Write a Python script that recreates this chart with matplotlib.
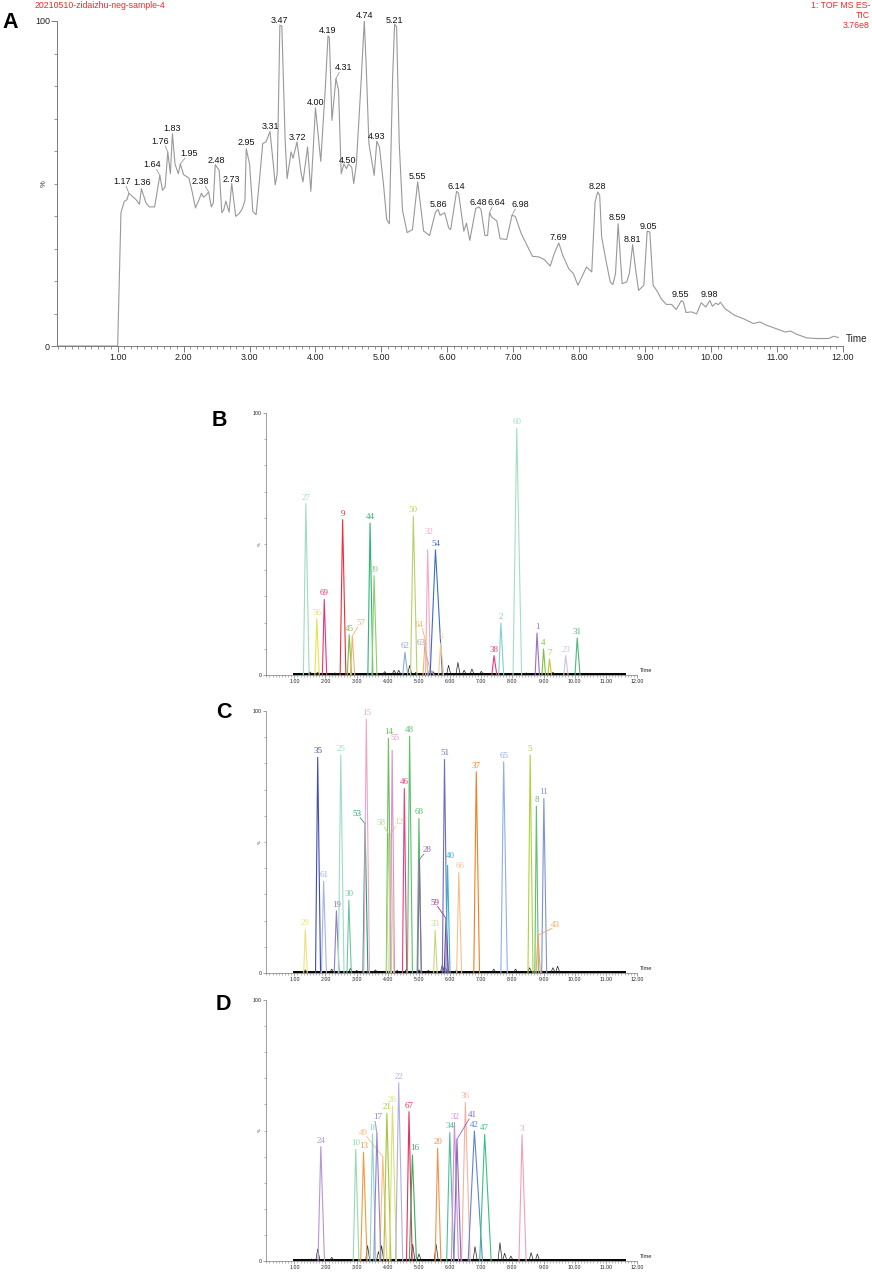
import numpy as np
import matplotlib
matplotlib.use("Agg")
import matplotlib.pyplot as plt
from matplotlib.ticker import MultipleLocator, FixedLocator

# ---- panel A : TIC trace (time in min, intensity in %) ----
tic_t = [0.08, 1.00, 1.05, 1.10, 1.14, 1.17, 1.28, 1.33, 1.36, 1.43, 1.48, 1.56, 1.64, 1.68, 1.72,
         1.76, 1.80, 1.83, 1.87, 1.92, 1.95, 2.00, 2.08, 2.13, 2.18, 2.23, 2.27, 2.30, 2.34, 2.38,
         2.42, 2.45, 2.48, 2.54, 2.58, 2.61, 2.64, 2.69, 2.73, 2.79, 2.84, 2.89, 2.93, 2.95, 3.00,
         3.05, 3.10, 3.15, 3.20, 3.25, 3.31, 3.36, 3.39, 3.42, 3.46, 3.49, 3.54, 3.57, 3.63, 3.66,
         3.72, 3.78, 3.81, 3.88, 3.93, 4.00, 4.08, 4.15, 4.19, 4.21, 4.25, 4.31, 4.35, 4.39, 4.43,
         4.47, 4.50, 4.55, 4.58, 4.62, 4.69, 4.74, 4.77, 4.81, 4.89, 4.93, 4.97, 5.03, 5.08, 5.12,
         5.17, 5.20, 5.23, 5.27, 5.32, 5.39, 5.47, 5.55, 5.64, 5.73, 5.82, 5.86, 5.89, 5.96, 6.02,
         6.05, 6.14, 6.17, 6.25, 6.29, 6.34, 6.43, 6.48, 6.51, 6.57, 6.61, 6.64, 6.67, 6.75, 6.80,
         6.90, 6.98, 7.03, 7.12, 7.22, 7.29, 7.39, 7.47, 7.56, 7.62, 7.69, 7.75, 7.84, 7.91, 7.98,
         8.05, 8.11, 8.19, 8.24, 8.28, 8.31, 8.34, 8.41, 8.47, 8.51, 8.55, 8.59, 8.65, 8.72, 8.76,
         8.81, 8.85, 8.90, 8.98, 9.03, 9.07, 9.12, 9.19, 9.24, 9.32, 9.40, 9.47, 9.55, 9.58, 9.62,
         9.70, 9.78, 9.85, 9.92, 9.98, 10.02, 10.07, 10.11, 10.14, 10.21, 10.28, 10.36, 10.49, 10.64,
         10.74, 10.84, 10.99, 11.12, 11.20, 11.30, 11.45, 11.60, 11.78, 11.86, 11.93]
tic_y = [0, 0, 41, 44.5, 45, 47, 45, 43.6, 48.4, 44, 42.8, 42.8, 52.5, 47.9, 49,
         59.7, 53, 65.3, 56, 53, 56, 52.7, 51.7, 47.4, 42.5, 44.8, 47, 45.8, 46.4, 47.4,
         42.8, 44, 55.8, 54, 41, 42, 44.6, 41.2, 50, 39.9, 40.7, 42.2, 44.8, 60.7, 56,
         41.4, 40.4, 51, 62.3, 62.8, 66, 56, 49.6, 53, 98.7, 98.4, 63.3, 51.5, 59.7, 57.8,
         62.8, 53.5, 50.5, 61.2, 47.6, 73.3, 56.8, 79.7, 95.4, 95, 69.4, 82.3, 78.7, 53, 56,
         54.6, 56, 55, 50, 56, 80.7, 100, 85.8, 62.3, 52.5, 63, 61.2, 50, 38.9, 37.6,
         82.8, 99, 98.2, 62.3, 41.7, 34.9, 35.8, 50.5, 35.4, 34, 41.2, 42, 40.2, 41, 36.3,
         35.8, 47.6, 47, 35.3, 37.8, 32.5, 42.3, 42.8, 42, 34, 34, 41, 39.7, 38.5, 33,
         32.8, 40.2, 39.9, 34.6, 30.5, 27.6, 27.4, 26.6, 24.6, 28.4, 31.7, 27.9, 23.8, 22.3, 18.7,
         21.7, 24.3, 22.8, 44.3, 47.4, 46.4, 33.5, 25.8, 19.7, 18.9, 22.3, 37.6, 19.2, 19.7, 22.3,
         31.2, 24.3, 17.1, 18.7, 35.3, 35.1, 18.7, 16.6, 14.6, 12.8, 12.8, 11.2, 14, 13.5, 10.3,
         10.5, 9.9, 13.3, 12, 14, 12.2, 13.2, 12.7, 13.5, 11.5, 10.5, 9.4, 8.4, 6.9,
         7.4, 6.4, 5.3, 4.3, 4.6, 3.6, 2.5, 2.3, 2.3, 3, 2.6]

tic_peaks = [1.17, 1.36, 1.64, 1.76, 1.83, 1.95, 2.38, 2.48, 2.73, 2.95, 3.31, 3.47, 3.72, 4.00,
             4.19, 4.31, 4.50, 4.74, 4.93, 5.21, 5.55, 5.86, 6.14, 6.48, 6.64, 6.98, 7.69, 8.28,
             8.59, 8.81, 9.05, 9.55, 9.98]
tic_peak_h = [47, 48.4, 52.5, 59.7, 65.3, 56, 47.4, 55.8, 50, 60.7, 66, 98.7, 62.8, 73.3,
              95.4, 82.3, 56, 100, 63, 99, 50.5, 42, 47.6, 42.8, 41, 40.2, 31.7, 47.4,
              37.6, 31.2, 35.3, 14, 14]
# where each label text sits (time, %)
tic_label_pos = [(1.06, 50.5), (1.37, 50.2), (1.52, 55.7), (1.65, 63.0), (1.83, 67.0), (2.09, 59.2),
                 (2.26, 50.5), (2.49, 57.0), (2.73, 51.3), (2.95, 62.6), (3.31, 67.6), (3.46, 100.2),
                 (3.73, 64.3), (4.00, 75.0), (4.19, 97.0), (4.43, 85.6), (4.49, 57.1), (4.74, 101.6),
                 (4.92, 64.6), (5.20, 100.2), (5.55, 52.2), (5.86, 43.6), (6.13, 49.1), (6.47, 44.2),
                 (6.75, 44.2), (7.10, 43.5), (7.69, 33.5), (8.27, 49.2), (8.58, 39.5), (8.80, 32.9),
                 (9.05, 36.8), (9.54, 15.7), (9.98, 15.8)]

# ---- panel B : extracted ion peaks ----
b_ids = ['27', '56', '69', '9', '45', '57', '44', '39', '62', '50', '64', '63', '32', '54', '6',
         '38', '2', '60', '1', '4', '7', '23', '31']
b_rt = [1.37, 1.72, 1.96, 2.55, 2.76, 2.86, 3.43, 3.56, 4.55, 4.82, 5.20, 5.36, 5.28, 5.53, 5.70,
        7.41, 7.63, 8.14, 8.79, 9.00, 9.19, 9.71, 10.08]
b_h = [65.4, 21.4, 28.8, 59.3, 15.4, 14.8, 58, 37.9, 8.7, 60.6, 13.5, 2.0, 47.8, 47.8, 12.2,
       7.4, 19.8, 94.3, 16, 9.9, 6.1, 7.4, 14.1]
b_w = [0.08, 0.06, 0.06, 0.08, 0.06, 0.06, 0.07, 0.07, 0.07, 0.09, 0.07, 0.1, 0.07, 0.17, 0.07,
       0.07, 0.07, 0.12, 0.06, 0.05, 0.05, 0.06, 0.07]
b_col = ['#9fdcc0', '#e8e24a', '#e8337a', '#ee2e3a', '#7cc242', '#f5b070', '#2bb673', '#8dcf6a',
         '#8fa8dc', '#b8d06a', '#f8b84e', '#b89ad0', '#f7a8c0', '#3b6fc6', '#f9c58a', '#ec3b7a',
         '#7fd0d0', '#a2e0c2', '#9b6fc8', '#7cc242', '#c7c23a', '#c9c3e3', '#4cbb7a']
b_noise_rt = [1.5, 1.75, 2.3, 3.9, 4.2, 4.35, 4.7, 4.9, 5.45, 5.95, 6.25, 6.45, 6.7, 7.0, 8.45, 9.3]
b_noise_h = [1.2, 1.0, 0.8, 1.3, 1.8, 1.8, 3.6, 1.0, 1.3, 3.7, 4.8, 1.8, 2.3, 1.4, 0.8, 1.0]
b_label_pos = {'57': (3.13, 19.8, True), '64': (5.01, 19.2, True), '63': (5.07, 12.2, True),
               '32': (5.31, 54.6, False)}

# ---- panel C ----
c_ids = ['29', '35', '61', '19', '25', '30', '53', '15', '14', '58', '12', '55', '46', '48', '68',
         '28', '33', '51', '59', '40', '66', '37', '65', '5', '8', '11', '43']
c_rt = [1.35, 1.75, 1.94, 2.35, 2.49, 2.75, 3.27, 3.31, 4.02, 4.03, 4.10, 4.14, 4.53, 4.70, 5.00,
        5.01, 5.52, 5.82, 5.87, 5.92, 6.28, 6.84, 7.72, 8.57, 8.77, 9.01, 8.82]
c_h = [16.6, 82.3, 35, 23.7, 83.2, 27.8, 57, 96.8, 89.6, 53, 53, 85, 70.4, 90.4, 59,
       43.3, 16.3, 81.5, 20.8, 41.1, 38.3, 76.8, 80.6, 83.2, 63.7, 66.6, 14.4]
c_w = [0.05, 0.07, 0.07, 0.07, 0.08, 0.06, 0.07, 0.08, 0.07, 0.07, 0.07, 0.06, 0.06, 0.07, 0.06,
       0.05, 0.05, 0.07, 0.06, 0.06, 0.07, 0.08, 0.09, 0.07, 0.05, 0.07, 0.06]
c_col = ['#f1e07a', '#3f4fb0', '#a4b4e4', '#8d7fc2', '#9edcc6', '#6cc7a0', '#1f9e7c', '#f3a3c9',
         '#6cbf5a', '#b4da90', '#d2dc8e', '#e08fd0', '#ea3f7e', '#5cc06e', '#5cbd6a', '#8a6aa8',
         '#c6d87e', '#6c6fc0', '#a32f7f', '#3ab0d2', '#f8c088', '#f07f1e', '#8eb0e2', '#aed23e',
         '#62c06e', '#8092d2', '#f3a45c']
c_noise_rt = [1.35, 2.2, 2.8, 3.0, 3.6, 4.3, 4.6, 5.0, 5.3, 5.75, 5.85, 6.2, 7.4, 8.1, 8.55, 9.3, 9.45]
c_noise_h = [1.2, 1.5, 1.8, 1.0, 1.2, 1.0, 1.5, 1.2, 1.0, 3.0, 2.0, 1.0, 1.5, 1.5, 2.0, 2.0, 2.6]
c_label_pos = {'53': (3.01, 60.8, True), '58': (3.78, 57.3, True), '12': (4.35, 57.6, True),
               '55': (4.24, 89.8, False), '28': (5.26, 46.9, True), '59': (5.50, 26.9, True),
               '40': (6.01, 44.6, False), '66': (6.32, 40.9, False), '43': (9.37, 18.5, True)}

# ---- panel D ----
d_ids = ['24', '10', '13', '49', '18', '17', '21', '26', '22', '67', '16', '20', '34', '32', '36',
         '41', '42', '47', '3']
d_rt = [1.85, 2.97, 3.22, 3.84, 3.51, 3.65, 3.97, 4.15, 4.35, 4.68, 4.79, 5.60, 5.99, 6.14, 6.49,
        6.22, 6.78, 7.11, 8.31]
d_h = [43.8, 42.8, 41.6, 40, 48.7, 49, 56.6, 59.4, 68.3, 57.2, 40.6, 43.2, 49.2, 53, 60.7,
       46.6, 49.8, 48.5, 48.3]
d_w = [0.09, 0.08, 0.09, 0.1, 0.08, 0.1, 0.1, 0.1, 0.1, 0.08, 0.1, 0.08, 0.1, 0.1, 0.12,
       0.1, 0.2, 0.16, 0.1]
d_col = ['#b795d6', '#98dab0', '#f39a3c', '#f7bf7a', '#8fd6c8', '#9a7fcf', '#a3c83c', '#d6e27a',
         '#aeb0e2', '#e8305e', '#3aae5a', '#f3914a', '#4cbf9c', '#d08fd6', '#f8b0a0', '#8a68c4',
         '#5f84d6', '#3cc083', '#f3a0b6']
d_noise_rt = [1.55, 1.75, 2.2, 3.35, 3.7, 3.8, 4.8, 5.0, 5.55, 6.8, 7.6, 7.75, 7.95, 8.6, 8.8]
d_noise_h = [0.8, 4.6, 1.4, 5.9, 3.6, 5.9, 6.4, 2.7, 6.4, 5.5, 7.0, 3.0, 1.9, 3.2, 2.7]
d_label_pos = {'49': (3.22, 49.2, True), '17': (3.69, 55.0, True), '16': (4.85, 43.2, False),
               '41': (6.71, 55.9, True)}

W, H = 872, 1273
AXIS = '#7a7a7a'
RED = '#ee2a2a'


def add_ax(fig, l, r, t, b):
    return fig.add_axes([l / W, 1 - b / H, (r - l) / W, (b - t) / H])


def style_axis(ax, xmin, fs, major_len, minor_len, lw):
    ax.set_xlim(xmin, 12.0)
    ax.set_ylim(0, 100)
    for s in ['top', 'right']:
        ax.spines[s].set_visible(False)
    for s in ['left', 'bottom']:
        ax.spines[s].set_color(AXIS)
        ax.spines[s].set_linewidth(lw)
    ax.xaxis.set_major_locator(FixedLocator(range(1, 13)))
    ax.xaxis.set_minor_locator(MultipleLocator(0.1))
    ax.set_xticklabels([f'{v:.2f}' for v in range(1, 13)])
    ax.yaxis.set_major_locator(FixedLocator([0, 100]))
    ax.yaxis.set_minor_locator(MultipleLocator(10))
    ax.set_yticklabels(['0', '100'])
    ax.tick_params(which='major', length=major_len, width=lw, color=AXIS, labelsize=fs,
                   labelcolor='#222222', pad=1)
    ax.tick_params(which='minor', length=minor_len, width=lw * 0.8, color=AXIS)
    ax.text(-0.012, 0.5, '%', transform=ax.transAxes, rotation=90, ha='right', va='center',
            fontsize=fs * 0.85, color='#333333')
    ax.annotate('Time', xy=(1, 0), xycoords='axes fraction', xytext=(2, 1.5),
                textcoords='offset points', ha='left', va='bottom', fontsize=fs * 1.1,
                color='#222222')


def peak_panel(ax, ids, rt, h, w, col, noise_rt, noise_h, label_pos):
    # baseline and black background trace
    ax.plot([1.0, 11.6], [0.3, 0.3], color='black', lw=1.4, zorder=2)
    for t, y in zip(noise_rt, noise_h):
        ax.plot([t - 0.06, t, t + 0.07], [0.3, y, 0.3], color='#222222', lw=0.5, zorder=2)
    for name, t, y, ww, c in zip(ids, rt, h, w, col):
        ax.plot([t - ww, t, t + 1.3 * ww], [0, y, 0], color=c, lw=0.8, zorder=3)
        if name in label_pos:
            tx, ty, lead = label_pos[name]
            ax.text(tx, ty, name, ha='center', va='center', color=c, fontsize=6.5,
                    family='Liberation Serif', zorder=4)
            if lead:
                ax.plot([tx + (0.1 if tx < t else -0.1), t], [ty - 1.5, y], color=c, lw=0.6, zorder=3)
        else:
            ax.text(t, y + 0.8, name, ha='center', va='bottom', color=c, fontsize=6.5,
                    family='Liberation Serif', zorder=4)


plt.rcParams['font.family'] = ['Liberation Sans', 'DejaVu Sans']
fig = plt.figure(figsize=(W / 100, H / 100), dpi=100)

# panel A
axA = add_ax(fig, 57, 843, 21, 346)
style_axis(axA, 0.08, 6.5, 4, 2.2, 0.7)
axA.plot(tic_t, tic_y, color='#999999', lw=0.8)
for pk, ph, (tx, ty) in zip(tic_peaks, tic_peak_h, tic_label_pos):
    axA.text(tx, ty, f'{pk:.2f}', ha='center', va='center', fontsize=6.5, color='#111111')
    if abs(tx - pk) > 0.05:
        axA.plot([tx + (0.07 if tx < pk else -0.07), pk], [ty - 1.4, ph], color='#999999', lw=0.6)

fig.text(35 / W, 1 - 6 / H, '20210510-zidaizhu-neg-sample-4', color=RED, fontsize=6.3,
         ha='left', va='center')
fig.text(870 / W, 1 - 1 / H, '1: TOF MS ES-\nTIC\n3.76e8', color=RED, fontsize=6.3,
         ha='right', va='top', linespacing=1.15)

# panels B, C, D
axB = add_ax(fig, 266, 637, 413, 675)
style_axis(axB, 0.09, 3.8, 2.2, 1.2, 0.5)
peak_panel(axB, b_ids, b_rt, b_h, b_w, b_col, b_noise_rt, b_noise_h, b_label_pos)

axC = add_ax(fig, 266, 637, 711, 973)
style_axis(axC, 0.09, 3.8, 2.2, 1.2, 0.5)
peak_panel(axC, c_ids, c_rt, c_h, c_w, c_col, c_noise_rt, c_noise_h, c_label_pos)

axD = add_ax(fig, 266, 637, 1000, 1261)
style_axis(axD, 0.09, 3.8, 2.2, 1.2, 0.5)
peak_panel(axD, d_ids, d_rt, d_h, d_w, d_col, d_noise_rt, d_noise_h, d_label_pos)

for letter, x, y in [('A', 2, 22), ('B', 212, 420), ('C', 216, 712), ('D', 216, 1004)]:
    fig.text(x / W, 1 - y / H, letter, fontsize=15.5, fontweight='bold', ha='left', va='center',
             family='Liberation Sans')

fig.savefig('out.png', dpi=100)
